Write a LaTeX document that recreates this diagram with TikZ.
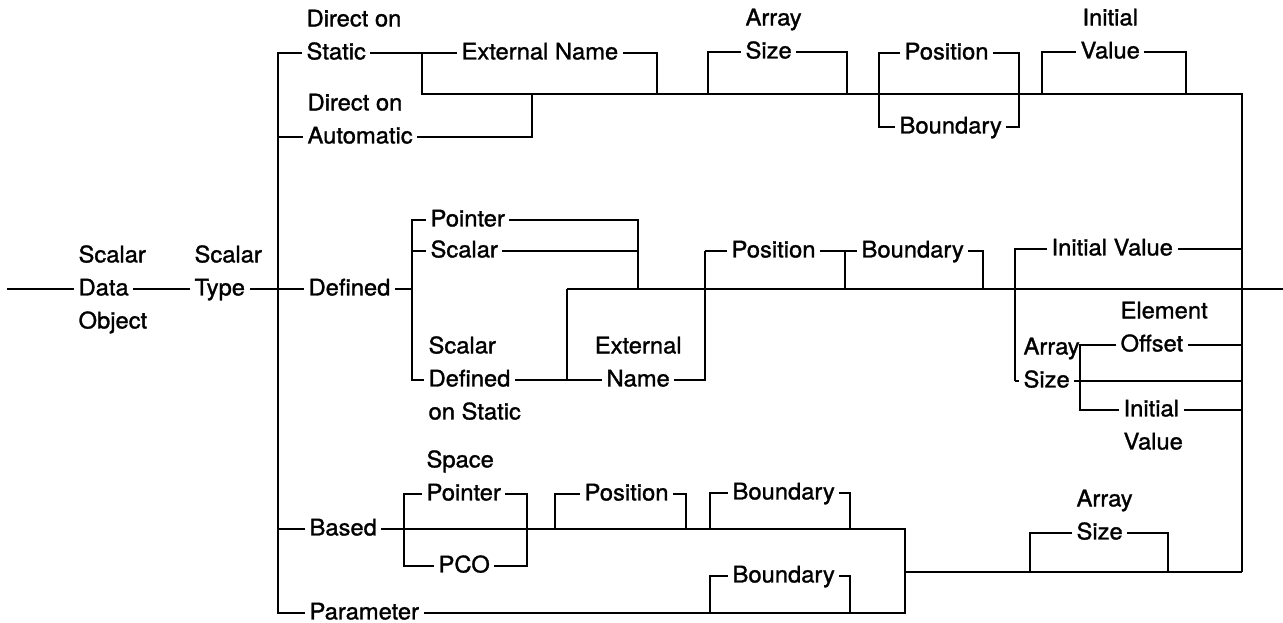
\documentclass[tikz,border=0pt]{standalone}
\usepackage{fontspec}
\setmainfont{TeX Gyre Heros}[FakeStretch=1.04, FakeBold=1.3]
\usepackage{tikz}
\usetikzlibrary{positioning}

\tikzset{
  lbl/.style={inner xsep=2pt, inner ysep=0pt, text height=9.3pt, text depth=2pt, anchor=west},
}

\begin{document}
\begin{tikzpicture}[x=0.02cm, y=-0.02cm, line width=1.2pt, node distance=6.3pt,
    font=\fontsize{13}{17.6}\selectfont]
            \useasboundingbox (0,0) rectangle (1283,622);

            % entry and bus
            \coordinate (start) at (7,289);
            \coordinate (exit) at (1283,289);
            \coordinate (bt) at (278,53);
            \coordinate (bb) at (278,613);
            \node[lbl] (data) at (74,289) {Data};
            \node[lbl, above=of data.north west, anchor=south west] (sdo1) {Scalar};
            \node[lbl, below=of data.south west, anchor=north west] (sdo3) {Object};
            \node[lbl] (type) at (190,289) {Type};
            \node[lbl, above=of type.north west, anchor=south west] (st1) {Scalar};
            \node[lbl] (static) at (302,53) {Static};
            \node[lbl, above=of static.north west, anchor=south west] (dos) {Direct on};
            \node[lbl] (automatic) at (303,137) {Automatic};
            \node[lbl, above=of automatic.north west, anchor=south west] (doa) {Direct on};
            \node[lbl] (defined) at (304,289) {Defined};
            \node[lbl] (based) at (305,529) {Based};
            \node[lbl] (parameter) at (305,613) {Parameter};

            \draw (start) -- (data.west) (data.east) -- (type.west) (type.east) -- (defined.west);
            \draw (static.west) -- (bt) -- (bb) -- (parameter.west);
            \draw (automatic.west) -- (automatic.west -| bt);
            \draw (based.west) -- (based.west -| bt);

            % direct on static / automatic
            \coordinate (fa) at (422,53);
            \coordinate (en1b) at (657,94);
            \coordinate (aub) at (532,94);
            \coordinate (rt) at (1242,94);
            \coordinate (rb) at (1242,572);
            \node[lbl] (ext1) at (457,53) {External Name};
            \draw (static.east) -- (fa) -- (ext1.west) (ext1.east) -| (en1b);
            \draw (fa) |- (rt) -- (rb);
            \draw (automatic.east) -| (aub);

            \coordinate (as1a) at (708,94);
            \coordinate (as1d) at (847,94);
            \node[lbl] (size1) at (741,52) {Size};
            \node[lbl, above=of size1.north west, anchor=south west] (array1) {Array};
            \draw (as1a) |- (size1.west) (size1.east) -| (as1d);

            \coordinate (pb1b) at (879,127);
            \coordinate (pb1d) at (1019,127);
            \node[lbl] (pos1) at (900,53) {Position};
            \node[lbl] (bnd1) at (895,127) {Boundary};
            \draw (pos1.west) -| (pb1b) -- (bnd1.west);
            \draw (pos1.east) -| (pb1d) -- (bnd1.east);

            \coordinate (iv1a) at (1042,94);
            \coordinate (iv1d) at (1186,94);
            \node[lbl] (val1) at (1076,52) {Value};
            \node[lbl, above=of val1.north, anchor=south] (init1) {Initial};
            \draw (iv1a) |- (val1.west) (val1.east) -| (iv1d);

            % defined
            \coordinate (db) at (412,289);
            \coordinate (dbt) at (412,380);
            \coordinate (pjb) at (638,289);
            \coordinate (m1) at (567,289);
            \coordinate (m1b) at (567,380);
            \coordinate (n2t) at (705,251);
            \node[lbl] (pointer) at (426,220) {Pointer};
            \node[lbl] (scalar2) at (426,251) {Scalar};
            \node[lbl] (sdef) at (424,380) {Defined};
            \node[lbl, above=of sdef.north west, anchor=south west] (sdef1) {Scalar};
            \node[lbl, below=of sdef.south west, anchor=north west] (sdef3) {on Static};
            \node[lbl] (name2) at (602,380) {Name};
            \node[lbl, above=of name2.north, anchor=south] (ext2) {External};
            \draw (defined.east) -- (db);
            \draw (pointer.west) -| (dbt) -- (sdef.west);
            \draw (scalar2.west) -- (scalar2.west -| db);
            \draw (pointer.east) -| (pjb);
            \draw (scalar2.east) -- (scalar2.east -| pjb);
            \draw (m1) -- (exit);
            \draw (sdef.east) -| (m1);
            \draw (m1b) -- (name2.west);
            \draw (name2.east) -| (n2t);

            \coordinate (pb2jb) at (845,289);
            \coordinate (b2cb) at (983,289);
            \node[lbl] (pos2) at (727,251) {Position};
            \node[lbl] (bnd2) at (857,251) {Boundary};
            \draw (n2t) -- (pos2.west) (pos2.east) -- (bnd2.west);
            \draw (pb2jb) -- (pb2jb |- pos2.east);
            \draw (bnd2.east) -| (b2cb);

            \coordinate (iv2b) at (1015,381);
            \coordinate (ojb) at (1080,410);
            \node[lbl] (iv2) at (1047,249) {Initial Value};
            \node[lbl] (size3) at (1019,381) {Size};
            \node[lbl, above=of size3.north west, anchor=south west] (array3) {Array};
            \node[lbl] (offset) at (1116,345) {Offset};
            \node[lbl, above=of offset.north west, anchor=south west] (elem) {Element};
            \node[lbl] (init3) at (1119,410) {Initial};
            \node[lbl, below=of init3.south west, anchor=north west] (val3) {Value};
            \draw (iv2b) |- (iv2.west) (iv2.east) -- (iv2.east -| rb);
            \draw (iv2b) -- (size3.west) (size3.east) -- (size3.east -| rb);
            \draw (offset.west) -| (ojb) -- (init3.west);
            \draw (offset.east) -- (offset.east -| rb);
            \draw (init3.east) -- (init3.east -| rb);

            % based and parameter
            \coordinate (pj5) at (905,529);
            \coordinate (pj6) at (905,613);
            \coordinate (pj7) at (905,572);
            \node[lbl] (pointer3) at (422,494) {Pointer};
            \node[lbl, above=of pointer3.north west, anchor=south west] (space) {Space};
            \node[lbl] (pco) at (434,566) {PCO};
            \coordinate (sp2) at (404,566);
            \coordinate (sp4) at (527,566);
            \draw (based.east) -- (pj5) -- (pj6) -- (parameter.east);
            \draw (pointer3.west) -| (sp2) -- (pco.west);
            \draw (pointer3.east) -| (sp4) -- (pco.east);

            \coordinate (p3a) at (555,529);
            \coordinate (p3d) at (686,529);
            \node[lbl] (pos3) at (580,494) {Position};
            \draw (p3a) |- (pos3.west) (pos3.east) -| (p3d);

            \coordinate (b3a) at (710,529);
            \coordinate (b3d) at (850,529);
            \node[lbl] (bnd3) at (728,493) {Boundary};
            \draw (b3a) |- (bnd3.west) (bnd3.east) -| (b3d);

            \coordinate (b4a) at (710,613);
            \coordinate (b4d) at (850,613);
            \node[lbl] (bnd4) at (728,576) {Boundary};
            \draw (b4a) |- (bnd4.west) (bnd4.east) -| (b4d);

            \coordinate (as4a) at (1030,572);
            \coordinate (as4d) at (1168,572);
            \node[lbl] (size4) at (1072,533) {Size};
            \node[lbl, above=of size4.north west, anchor=south west] (array4) {Array};
            \draw (pj7) -- (rb);
            \draw (as4a) |- (size4.west) (size4.east) -| (as4d);
\end{tikzpicture}
\end{document}
